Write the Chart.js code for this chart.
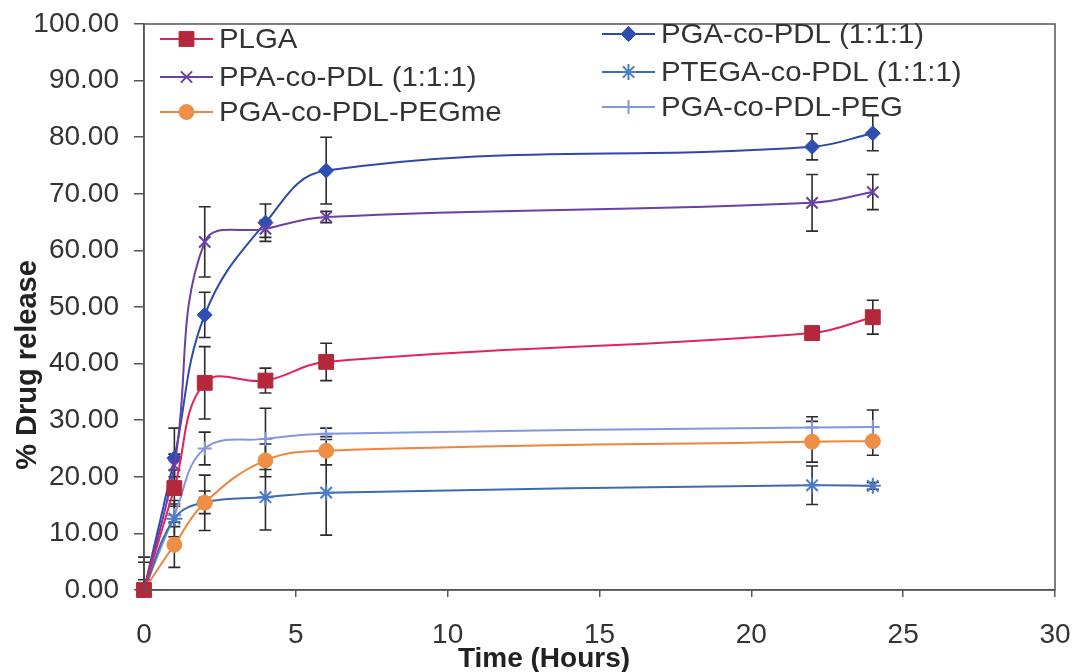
<!DOCTYPE html>
<html>
<head>
<meta charset="utf-8">
<title>% Drug release vs time</title>
<script src="https://cdn.jsdelivr.net/npm/chart.js@4/dist/chart.umd.min.js"></script>
<style>
  html, body { margin: 0; padding: 0; background: #ffffff; }
  #chart { display: block; }
</style>
</head>
<body>
<canvas id="chart" width="1077" height="672"></canvas>
<script>
// sampling times (hours)
const times = [0, 1, 2, 4, 6, 22, 24];

// % drug release
const plga     = [0, 18.0, 36.6, 37.0, 40.3, 45.4, 48.2];
const ppa      = [0, 22.0, 61.5, 63.8, 65.9, 68.4, 70.3];
const pgaPegme = [0, 8.0, 15.4, 22.9, 24.6, 26.2, 26.3];
const pga      = [0, 23.3, 48.6, 64.9, 74.1, 78.3, 80.7];
const ptega    = [0, 12.6, 15.5, 16.4, 17.2, 18.5, 18.4];
const pgaPeg   = [0, 13.2, 25.0, 26.7, 27.6, 28.7, 28.8];

// error bar half-heights (+/-)
const plgaErr     = [1.0, 3.2, 6.4, 2.2, 3.3, 0.5, 3.0];
const ppaErr      = [4.9, 2.0, 6.2, 1.5, 1.0, 5.0, 3.1];
const pgaPegmeErr = [0.8, 4.0, 4.9, 2.9, 2.5, 3.6, 2.5];
const pgaErr      = [5.8, 5.3, 4.0, 3.3, 5.9, 2.3, 3.1];
const ptegaErr    = [1.8, 3.2, 2.0, 5.8, 7.5, 3.4, 0.6];
const pgaPegErr   = [1.0, 2.0, 2.9, 5.4, 1.0, 1.9, 3.0];

const seriesLabels = [
  'PLGA', 'PPA-co-PDL (1:1:1)', 'PGA-co-PDL-PEGme',
  'PGA-co-PDL (1:1:1)', 'PTEGA-co-PDL (1:1:1)', 'PGA-co-PDL-PEG'
];

const xTicks = [0, 5, 10, 15, 20, 25, 30];
const yMin = 0, yMax = 100, yStep = 10;

const FONT = '"Liberation Sans", Arial, Helvetica, sans-serif';
const TEXT = '#333333';
const AXIS = '#555555';

function pts(values) {
  return times.map((t, i) => ({ x: t, y: values[i] }));
}

function series(label, values, errs, line, marker, style, radius) {
  return {
    label: label,
    data: pts(values),
    errors: errs,
    borderColor: line,
    backgroundColor: marker,
    pointBackgroundColor: marker,
    pointBorderColor: marker,
    pointStyle: style,
    pointRadius: radius,
    pointBorderWidth: style === 'crossRot' || style === 'star' || style === 'cross' ? 2 : 1,
    borderWidth: 2,
    tension: 0.4,
    clip: false
  };
}

const datasets = [
  series(seriesLabels[0], plga, plgaErr, '#e3245c', '#b4283c', 'rect', 10.5),
  series(seriesLabels[1], ppa, ppaErr, '#6a3fa6', '#6a3fa6', 'crossRot', 8),
  series(seriesLabels[2], pgaPegme, pgaPegmeErr, '#ee853a', '#ef8f45', 'circle', 7.5),
  series(seriesLabels[3], pga, pgaErr, '#2d49aa', '#2d4fb4', 'rectRot', 7.5),
  series(seriesLabels[4], ptega, ptegaErr, '#3d6bb2', '#4a7cc4', 'star', 8),
  series(seriesLabels[5], pgaPeg, pgaPegErr, '#8496e0', '#8496e0', 'cross', 7)
];

// error bars, drawn under the markers
const errorBars = {
  id: 'errorBars',
  beforeDatasetsDraw(chart) {
    const { ctx, scales: { x, y } } = chart;
    ctx.save();
    ctx.strokeStyle = '#2b2b2b';
    ctx.lineWidth = 1.6;
    chart.data.datasets.forEach(ds => {
      ds.data.forEach((p, i) => {
        const e = ds.errors[i];
        if (!e) return;
        const px = x.getPixelForValue(p.x);
        const top = y.getPixelForValue(p.y + e);
        const bot = y.getPixelForValue(Math.max(p.y - e, yMin));
        ctx.beginPath();
        ctx.moveTo(px, top); ctx.lineTo(px, bot);
        ctx.moveTo(px - 6, top); ctx.lineTo(px + 6, top);
        if (p.y - e >= yMin) { ctx.moveTo(px - 6, bot); ctx.lineTo(px + 6, bot); }
        ctx.stroke();
      });
    });
    ctx.restore();
  }
};

// box round the plot, legend inside it, axis titles
const frame = {
  id: 'frame',
  afterDraw(chart) {
    const { ctx, chartArea: a } = chart;
    ctx.save();
    ctx.strokeStyle = AXIS;
    ctx.lineWidth = 1.5;
    ctx.strokeRect(a.left, a.top, a.right - a.left, a.bottom - a.top);

    // legend: two columns of three
    const cols = [{ x0: 160, x1: 213, tx: 219, y: [39, 77, 112] },
                  { x0: 602, x1: 655, tx: 661, y: [34, 72, 107] }];
    ctx.font = '28px ' + FONT;
    ctx.textBaseline = 'middle';
    ctx.textAlign = 'left';
    chart.data.datasets.forEach((ds, i) => {
      const c = cols[Math.floor(i / 3)];
      const yy = c.y[i % 3];
      ctx.strokeStyle = ds.borderColor;
      ctx.lineWidth = 2;
      ctx.beginPath(); ctx.moveTo(c.x0, yy); ctx.lineTo(c.x1, yy); ctx.stroke();
      ctx.fillStyle = ds.pointBackgroundColor;
      ctx.strokeStyle = ds.pointBorderColor;
      ctx.lineWidth = ds.pointBorderWidth;
      Chart.helpers.drawPoint(ctx, { pointStyle: ds.pointStyle, radius: ds.pointRadius, borderWidth: ds.pointBorderWidth, rotation: 0 }, (c.x0 + c.x1) / 2, yy);
      // the original type is a little wider than Arial
      ctx.save();
      ctx.translate(c.tx, yy + 1);
      ctx.scale(1.05, 1);
      ctx.fillStyle = TEXT;
      ctx.fillText(ds.label, 0, 0);
      ctx.restore();
    });

    // axis titles
    ctx.fillStyle = '#222222';
    ctx.font = 'bold 28px ' + FONT;
    ctx.textAlign = 'center';
    ctx.textBaseline = 'alphabetic';
    ctx.fillText('Time (Hours)', 544, 667);
    ctx.font = 'bold 29px ' + FONT;
    ctx.translate(36, 365);
    ctx.rotate(-Math.PI / 2);
    ctx.fillText('% Drug release', 0, 0);
    ctx.restore();
  }
};

new Chart(document.getElementById('chart').getContext('2d'), {
  type: 'line',
  data: { datasets: datasets },
  options: {
    responsive: false,
    animation: false,
    devicePixelRatio: 1,
    layout: { padding: { top: 24, right: 22, left: 0, bottom: 0 } },
    plugins: { legend: { display: false }, tooltip: { enabled: false } },
    scales: {
      x: {
        type: 'linear',
        min: xTicks[0],
        max: xTicks[xTicks.length - 1],
        afterBuildTicks: s => { s.ticks = xTicks.map(v => ({ value: v })); },
        afterFit: s => { s.height = 82; s.paddingLeft = 0; s.paddingRight = 0; },
        grid: { drawOnChartArea: false, drawTicks: true, tickLength: 7, color: AXIS, lineWidth: 1.5 },
        border: { display: true, color: AXIS, width: 1.5 },
        ticks: { font: { family: FONT, size: 28 }, color: TEXT, padding: 21, maxRotation: 0 }
      },
      y: {
        min: yMin,
        max: yMax,
        afterFit: s => { s.width = 144; s.paddingTop = 0; s.paddingBottom = 0; },
        grid: { drawOnChartArea: false, drawTicks: true, tickLength: 10, color: AXIS, lineWidth: 1.5 },
        border: { display: true, color: AXIS, width: 1.5 },
        ticks: { stepSize: yStep, font: { family: FONT, size: 28 }, color: TEXT, padding: 15,
                 callback: v => v.toFixed(2) }
      }
    }
  },
  plugins: [errorBars, frame]
});
</script>
</body>
</html>
